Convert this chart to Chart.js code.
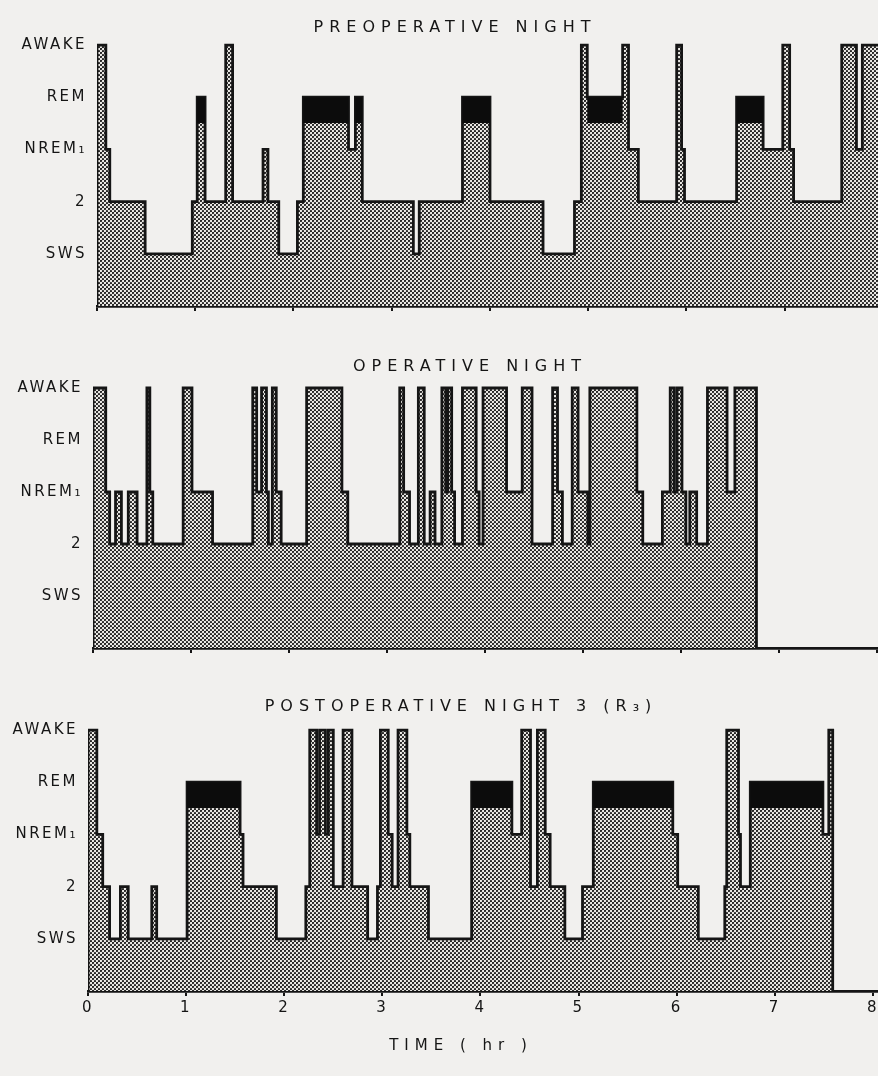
<!DOCTYPE html>
<html>
<head>
<meta charset="utf-8">
<script src="https://cdn.jsdelivr.net/npm/chart.js@4.4.1/dist/chart.umd.min.js"></script>
<style>
  html, body { margin: 0; padding: 0; background: #f1f0ee; overflow: hidden; }
  body { width: 878px; height: 1076px; position: relative; }
  canvas { position: absolute; left: 0; }
</style>
</head>
<body>
<canvas id="pre" width="910" height="319" style="top:0px"></canvas>
<canvas id="op" width="940" height="326" style="top:335px"></canvas>
<canvas id="post" width="922" height="406" style="top:670px"></canvas>
<script>
// sleep stage codes: W awake, R REM, 1 NREM1, 2 stage 2, S slow wave sleep
const stageNames = ['', 'SWS', '2', 'NREM₁', 'REM', 'AWAKE'];
const stageLevel = { S: 1, '2': 2, '1': 3, R: 4, W: 5 };
const hourTicks = [0, 1, 2, 3, 4, 5, 6, 7, 8];

// each time (hr) starts a new stage, held until the next time
const preTimes = [0, 0.09, 0.13, 0.49, 0.97, 1.02, 1.10, 1.31, 1.38, 1.69, 1.74, 1.85, 2.04, 2.10, 2.56, 2.63,
    2.70, 3.22, 3.28, 3.72, 4.00, 4.54, 4.86, 4.93, 4.99, 5.35, 5.41, 5.51, 5.90, 5.95, 5.98, 6.51, 6.78, 6.98,
    7.05, 7.09, 7.58, 7.73, 7.79];
const preStages = ['W', '1', '2', 'S', '2', 'R', '2', 'W', '2', '1', '2', 'S', '2', 'R', '1', 'R',
    '2', 'S', '2', 'R', '2', 'S', '2', 'W', 'R', 'W', '1', '2', 'W', '1', '2', 'R', '1', 'W',
    '1', '2', 'W', '1', 'W'];
const preEnd = 8.0;

const opTimes = [0, 0.13, 0.17, 0.23, 0.29, 0.36, 0.45, 0.55, 0.58, 0.61, 0.92, 1.01, 1.22, 1.63, 1.67, 1.72,
    1.77, 1.79, 1.83, 1.87, 1.92, 2.18, 2.54, 2.60, 3.13, 3.17, 3.23, 3.32, 3.38, 3.44, 3.49, 3.56, 3.60, 3.62,
    3.66, 3.69, 3.77, 3.91, 3.94, 3.98, 4.22, 4.38, 4.48, 4.69, 4.74, 4.79, 4.89, 4.95, 5.05, 5.07, 5.55, 5.61,
    5.81, 5.89, 5.93, 5.96, 6.01, 6.05, 6.09, 6.16, 6.27, 6.47, 6.55];
const opStages = ['W', '1', '2', '1', '2', '1', '2', 'W', '1', '2', 'W', '1', '2', 'W', '1', 'W',
    '1', '2', 'W', '1', '2', 'W', '1', '2', 'W', '1', '2', 'W', '2', '1', '2', 'W', '1', 'W',
    '1', '2', 'W', '1', '2', 'W', '1', 'W', '2', 'W', '1', '2', 'W', '1', '2', 'W', '1', '2',
    '1', 'W', '1', 'W', '1', '2', '1', '2', 'W', '1', 'W'];
const opEnd = 6.77;

const postTimes = [0, 0.09, 0.15, 0.22, 0.33, 0.41, 0.65, 0.70, 1.01, 1.55, 1.58, 1.92, 2.22, 2.26, 2.33, 2.36,
    2.42, 2.45, 2.50, 2.60, 2.69, 2.85, 2.95, 2.98, 3.06, 3.10, 3.16, 3.25, 3.28, 3.47, 3.91, 4.32, 4.42, 4.51,
    4.58, 4.66, 4.71, 4.86, 5.04, 5.15, 5.96, 6.01, 6.22, 6.49, 6.51, 6.63, 6.65, 6.75, 7.49, 7.55];
const postStages = ['W', '1', '2', 'S', '2', 'S', '2', 'S', 'R', '1', '2', 'S', '2', 'W', '1', 'W',
    '1', 'W', '2', 'W', '2', 'S', '2', 'W', '1', '2', 'W', '1', '2', 'S', 'R', '1', 'W', '2',
    'W', '1', '2', 'S', '2', 'R', '1', '2', 'S', '2', 'W', '1', '2', 'R', '1', 'W'];
const postEnd = 7.59;

function stipple() {
    const c = document.createElement('canvas');
    c.width = 4;
    c.height = 4;
    const g = c.getContext('2d');
    g.fillStyle = '#eceae6';
    g.fillRect(0, 0, 4, 4);
    g.fillStyle = '#1b1b1b';
    [[1, 1], [3, 3]].forEach(([x, y]) => {
        g.beginPath();
        g.arc(x, y, 1.12, 0, Math.PI * 2);
        g.fill();
    });
    return g.createPattern(c, 'repeat');
}

const pattern = stipple();

function hypnogram(times, stages, end) {
    const pts = [{ x: 0, y: 0 }];
    times.forEach((t, i) => pts.push({ x: t, y: stageLevel[stages[i]] }));
    pts.push({ x: end, y: stageLevel[stages[stages.length - 1]] });
    pts.push({ x: end, y: 0 });
    return pts;
}

// black REM cap: the upper half-step of every REM episode
const remFloor = 3.5;
function remBand(times, stages, end) {
    const pts = [{ x: 0, y: remFloor }];
    times.forEach((t, i) => pts.push({ x: t, y: stages[i] === 'R' ? stageLevel.R : remFloor }));
    pts.push({ x: end, y: remFloor });
    return pts;
}

const spacing = {
    id: 'spacing',
    beforeDraw(chart) { chart.ctx.letterSpacing = '6px'; },
    afterDatasetsDraw(chart) { chart.ctx.letterSpacing = '2.5px'; },
};

const ink = '#151515';
const font = 'DejaVu Sans';

function drawPanel(cfg) {
    new Chart(document.getElementById(cfg.id), {
        type: 'line',
        data: {
            datasets: [
                {
                    data: remBand(cfg.times, cfg.stages, cfg.end),
                    stepped: true,
                    fill: { target: { value: remFloor }, above: '#0c0c0c', below: 'rgba(0,0,0,0)' },
                    borderWidth: 0,
                    borderColor: 'rgba(0,0,0,0)',
                    pointRadius: 0,
                    order: 0,
                },
                {
                    data: hypnogram(cfg.times, cfg.stages, cfg.end),
                    stepped: true,
                    fill: 'origin',
                    backgroundColor: pattern,
                    borderColor: ink,
                    borderWidth: 2.8,
                    borderJoinStyle: 'miter',
                    pointRadius: 0,
                    order: 1,
                },
            ],
        },
        options: {
            responsive: false,
            animation: false,
            events: [],
            layout: { padding: cfg.padding },
            plugins: {
                legend: { display: false },
                tooltip: { enabled: false },
                title: {
                    display: true,
                    text: cfg.title,
                    color: ink,
                    font: { family: font, size: 16, weight: 'normal' },
                    padding: { top: 0, bottom: cfg.titleGap },
                },
                subtitle: {
                    display: !!cfg.xTitle,
                    text: cfg.xTitle || '',
                    position: 'bottom',
                    color: ink,
                    font: { family: font, size: 15, weight: 'normal' },
                    padding: { top: 17, bottom: 0 },
                },
            },
            scales: {
                x: {
                    type: 'linear',
                    min: 0,
                    max: cfg.xMax,
                    afterBuildTicks: (scale) => { scale.ticks = hourTicks.map((v) => ({ value: v })); },
                    grid: { drawOnChartArea: false, tickLength: 5, color: ink, lineWidth: 2 },
                    border: { display: true, color: ink, width: 2.8 },
                    ticks: {
                        display: cfg.showHours,
                        z: 1,
                        padding: 3,
                        color: ink,
                        font: { family: font, size: 15 },
                    },
                },
                y: {
                    min: 0,
                    max: 5.15,
                    afterBuildTicks: (scale) => { scale.ticks = [1, 2, 3, 4, 5].map((v) => ({ value: v })); },
                    afterFit: (scale) => {
                        scale.width = cfg.axisLeft;
                        scale.paddingTop = 0;
                        scale.paddingBottom = 0;
                    },
                    grid: { display: false },
                    border: { display: false },
                    ticks: {
                        z: 1,
                        padding: 2,
                        color: ink,
                        font: { family: font, size: 15 },
                        callback: (v) => stageNames[v],
                    },
                },
            },
        },
        plugins: [spacing],
    });
}

drawPanel({
    id: 'pre', times: preTimes, stages: preStages, end: preEnd,
    title: 'PREOPERATIVE NIGHT', axisLeft: 97, xMax: 8.275, showHours: false,
    padding: { top: 18, right: 0, bottom: 8, left: 0 }, titleGap: 0,
});
drawPanel({
    id: 'op', times: opTimes, stages: opStages, end: opEnd,
    title: 'OPERATIVE NIGHT', axisLeft: 93, xMax: 8.643, showHours: false,
    padding: { top: 22, right: 0, bottom: 8, left: 0 }, titleGap: 4,
});
drawPanel({
    id: 'post', times: postTimes, stages: postStages, end: postEnd,
    title: 'POSTOPERATIVE NIGHT 3 (R₃)', axisLeft: 88, xMax: 8.5, showHours: true,
    xTitle: 'TIME ( hr )',
    padding: { top: 27, right: 0, bottom: 21, left: 0 }, titleGap: 6,
});
</script>
</body>
</html>
